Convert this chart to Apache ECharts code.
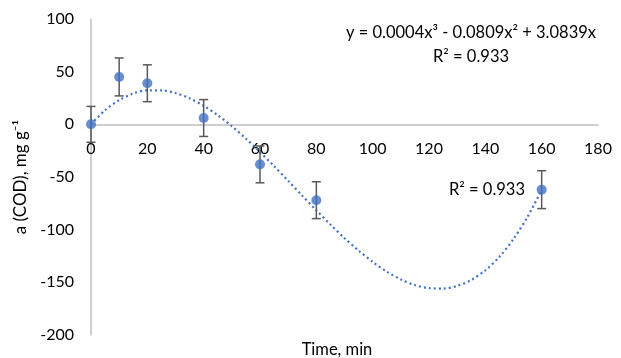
<!DOCTYPE html>
<html><head><meta charset="utf-8">
<script src="https://cdn.jsdelivr.net/npm/echarts@6/dist/echarts.min.js"></script>
<style>html,body{margin:0;padding:0;background:#fff}#c{width:621px;height:358px}</style>
</head><body><div id="c"></div>
<script>
var times = [0, 10, 20, 40, 60, 80, 160];
var values = [0, 45, 39, 6, -38, -72, -62];
var errors = [17, 18, 17.5, 17.5, 17.5, 17.5, 18];
var trendX = [0, 5, 10, 15, 20, 25, 30, 35, 40, 45, 50, 55, 60, 65, 70, 75, 80, 85, 90, 95, 100,
  105, 110, 115, 120, 125, 130, 135, 140, 145, 150, 155, 160];
var trendY = [0, 13.4, 23, 29.3, 32.3, 32.3, 29.7, 24.7, 17.6, 8.7, -1.8, -13.6, -26.3, -39.7, -53.6, -67.7, -81.6, -95.1, -108, -119.9, -130.6,
  -139.8, -147.2, -152.6, -155.5, -155.9, -153.4, -147.8, -138.6, -125.8, -108.9, -87.8, -62];
var equationText = 'y = 0.0004x³ - 0.0809x² + 3.0839x';
var r2Text = 'R² = 0.933';

var font = 'Lato';
var chart = echarts.init(document.getElementById('c'));
var pts = times.map(function (t, i) { return [t, values[i]]; });
var errData = times.map(function (t, i) { return [t, values[i] - errors[i], values[i] + errors[i]]; });
var trend = trendX.map(function (t, i) { return [t, trendY[i]]; });

chart.setOption({
  animation: false,
  grid: { left: 91, right: 23, top: 19, bottom: 23, containLabel: false, outerBoundsMode: 'none' },
  xAxis: {
    type: 'value', min: 0, max: 180, interval: 20,
    axisLine: { onZero: true, lineStyle: { color: '#bfbfbf', width: 1.5 } },
    axisTick: { show: false },
    splitLine: { show: false },
    axisLabel: { color: '#000', fontFamily: font, fontSize: 16, margin: -194 }
  },
  yAxis: {
    type: 'value', min: -200, max: 100, interval: 50,
    name: 'a (COD), mg g⁻¹', nameLocation: 'middle', nameGap: 55,
    nameTextStyle: { color: '#000', fontFamily: font, fontSize: 17 },
    axisLine: { show: true, onZero: false, lineStyle: { color: '#bfbfbf', width: 1.5 } },
    axisTick: { show: false },
    splitLine: { show: false },
    axisLabel: { color: '#000', fontFamily: font, fontSize: 16, margin: 17 }
  },
  graphic: [
    { type: 'text', x: 337, y: 350, style: { text: 'Time, min', fill: '#000', font: '16.5px Lato', textAlign: 'center', textVerticalAlign: 'middle' } },
    { type: 'text', x: 471, y: 33, style: { text: equationText, fill: '#000', font: '16.5px Lato', textAlign: 'center', textVerticalAlign: 'middle' } },
    { type: 'text', x: 471, y: 57, style: { text: r2Text, fill: '#000', font: '16.5px Lato', textAlign: 'center', textVerticalAlign: 'middle' } },
    { type: 'text', x: 525, y: 190, style: { text: r2Text, fill: '#000', font: '16.5px Lato', textAlign: 'right', textVerticalAlign: 'middle' } }
  ],
  series: [
    {
      type: 'line', data: trend, smooth: 0.3, showSymbol: false, symbol: 'none',
      lineStyle: { color: '#4472c4', width: 2.2, type: [2, 3] }, z: 2
    },
    {
      type: 'custom', data: errData, z: 3,
      renderItem: function (params, api) {
        var x = api.value(0);
        var lo = api.coord([x, api.value(1)]);
        var hi = api.coord([x, api.value(2)]);
        var w = 4.5;
        var st = { stroke: '#595959', lineWidth: 1.5 };
        return { type: 'group', children: [
          { type: 'line', shape: { x1: lo[0], y1: lo[1], x2: hi[0], y2: hi[1] }, style: st },
          { type: 'line', shape: { x1: lo[0] - w, y1: lo[1], x2: lo[0] + w, y2: lo[1] }, style: st },
          { type: 'line', shape: { x1: hi[0] - w, y1: hi[1], x2: hi[0] + w, y2: hi[1] }, style: st }
        ]};
      }
    },
    {
      type: 'scatter', data: pts, symbol: 'circle', symbolSize: 10,
      itemStyle: { color: '#4472c4' }, z: 4
    }
  ]
});
</script>
</body></html>
